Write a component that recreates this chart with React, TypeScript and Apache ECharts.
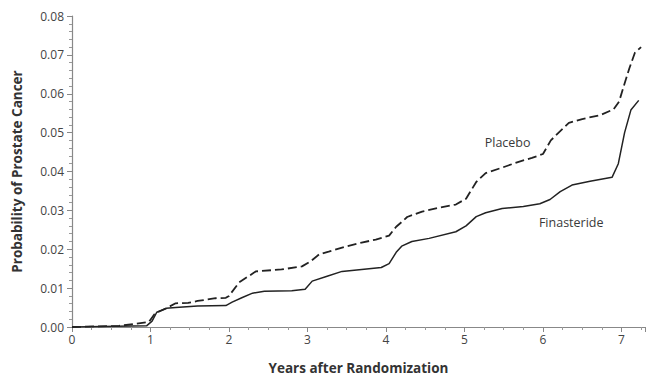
import React, { useEffect, useRef } from "react";
import * as echarts from "echarts";

const placeboYears = [0, 0.6, 0.8, 0.98, 1.05, 1.11, 1.2, 1.32, 1.48, 1.6, 1.83, 1.96, 2.0, 2.13, 2.26, 2.34, 2.67, 2.93, 3.04, 3.15, 3.27, 3.49, 3.69, 3.87, 4.04, 4.13, 4.2, 4.27, 4.46, 4.68, 4.89, 5.02, 5.15, 5.27, 5.48, 5.69, 5.86, 6.0, 6.1, 6.2, 6.33, 6.5, 6.73, 6.9, 6.97, 7.03, 7.1, 7.17, 7.25];
const placeboProb = [0, 0.0003, 0.0008, 0.0013, 0.0033, 0.004, 0.0048, 0.0061, 0.0062, 0.0067, 0.0074, 0.0075, 0.008, 0.0115, 0.0132, 0.0143, 0.0148, 0.0156, 0.0169, 0.0187, 0.0194, 0.0207, 0.0217, 0.0225, 0.0235, 0.0258, 0.027, 0.0283, 0.0297, 0.0307, 0.0315, 0.033, 0.0373, 0.0396, 0.041, 0.0425, 0.0435, 0.0445, 0.048, 0.05, 0.0525, 0.0535, 0.0545, 0.056, 0.058, 0.062, 0.0665, 0.0705, 0.072];

const finYears = [0, 0.95, 1.02, 1.08, 1.2, 1.32, 1.6, 1.96, 2.04, 2.17, 2.3, 2.45, 2.8, 2.97, 3.06, 3.24, 3.44, 3.69, 3.94, 4.04, 4.13, 4.2, 4.33, 4.55, 4.89, 5.02, 5.15, 5.27, 5.48, 5.75, 5.96, 6.09, 6.22, 6.37, 6.6, 6.88, 6.96, 7.04, 7.12, 7.22];
const finProb = [0, 0.0003, 0.0015, 0.0038, 0.0048, 0.005, 0.0054, 0.0055, 0.0064, 0.0076, 0.0087, 0.0092, 0.0093, 0.0097, 0.0118, 0.013, 0.0143, 0.0148, 0.0153, 0.0163, 0.0192, 0.0208, 0.022, 0.0228, 0.0245, 0.026, 0.0284, 0.0294, 0.0305, 0.031, 0.0317, 0.0328, 0.0348, 0.0365, 0.0375, 0.0385, 0.042, 0.05, 0.0558, 0.0583];

const seriesNames = ["Placebo", "Finasteride"];
const placeboLabelAt = [5.55, 0.0474];
const finLabelAt = [6.36, 0.0269];

const FONT = "'Open Sans', 'Noto Sans', sans-serif";

export default function App() {
  const ref = useRef<HTMLDivElement>(null);
  useEffect(() => {
    document.body.style.margin = "0";
    if (!ref.current) return;
    const chart = echarts.init(ref.current, undefined, { renderer: "svg" });
    const pl = placeboYears.map((x, i) => [x, placeboProb[i]]);
    const fi = finYears.map((x, i) => [x, finProb[i]]);
    const seriesLabel = (text: string) => ({
      show: true,
      formatter: text,
      fontFamily: FONT,
      fontSize: 12.5,
      color: "#3a3a3a",
    });
    chart.setOption({
      animation: false,
      backgroundColor: "#ffffff",
      grid: { left: 72, right: 11, top: 16, bottom: 52, containLabel: false },
      xAxis: {
        type: "value",
        min: 0,
        max: 7.3,
        interval: 1,
        name: "Years after Randomization",
        nameLocation: "middle",
        nameGap: 34,
        nameTextStyle: { fontFamily: FONT, fontSize: 13.5, fontWeight: "bold", color: "#333" },
        axisLine: { show: true, lineStyle: { color: "#888", width: 1.2 } },
        axisTick: { show: true, length: 5, lineStyle: { color: "#888" } },
        minorTick: { show: true, splitNumber: 4, length: 3, lineStyle: { color: "#999" } },
        axisLabel: {
          fontFamily: FONT,
          fontSize: 12,
          color: "#444",
          margin: 6,
          formatter: (v: number) => (v > 7.01 ? "" : String(v)),
        },
        splitLine: { show: false },
      },
      yAxis: {
        type: "value",
        min: 0,
        max: 0.08,
        interval: 0.01,
        name: "Probability of Prostate Cancer",
        nameLocation: "middle",
        nameGap: 48,
        nameTextStyle: { fontFamily: FONT, fontSize: 13.5, fontWeight: "bold", color: "#333" },
        axisLine: { show: true, lineStyle: { color: "#888", width: 1.2 } },
        axisTick: { show: true, length: 5, lineStyle: { color: "#888" } },
        minorTick: { show: true, splitNumber: 5, length: 3, lineStyle: { color: "#999" } },
        axisLabel: {
          fontFamily: FONT,
          fontSize: 12,
          color: "#444",
          margin: 8,
          formatter: (v: number) => v.toFixed(2),
        },
        splitLine: { show: false },
      },
      series: [
        {
          name: seriesNames[0],
          type: "line",
          data: pl,
          symbol: "none",
          lineStyle: { color: "#222", width: 1.8, type: [9, 4] },
          markPoint: {
            symbol: "rect",
            symbolSize: 0,
            data: [{ coord: placeboLabelAt, label: seriesLabel(seriesNames[0]) }],
          },
        },
        {
          name: seriesNames[1],
          type: "line",
          data: fi,
          symbol: "none",
          lineStyle: { color: "#222", width: 1.5 },
          markPoint: {
            symbol: "rect",
            symbolSize: 0,
            data: [{ coord: finLabelAt, label: seriesLabel(seriesNames[1]) }],
          },
        },
      ],
    });
    return () => chart.dispose();
  }, []);
  return <div ref={ref} style={{ width: 656, height: 380 }} />;
}
